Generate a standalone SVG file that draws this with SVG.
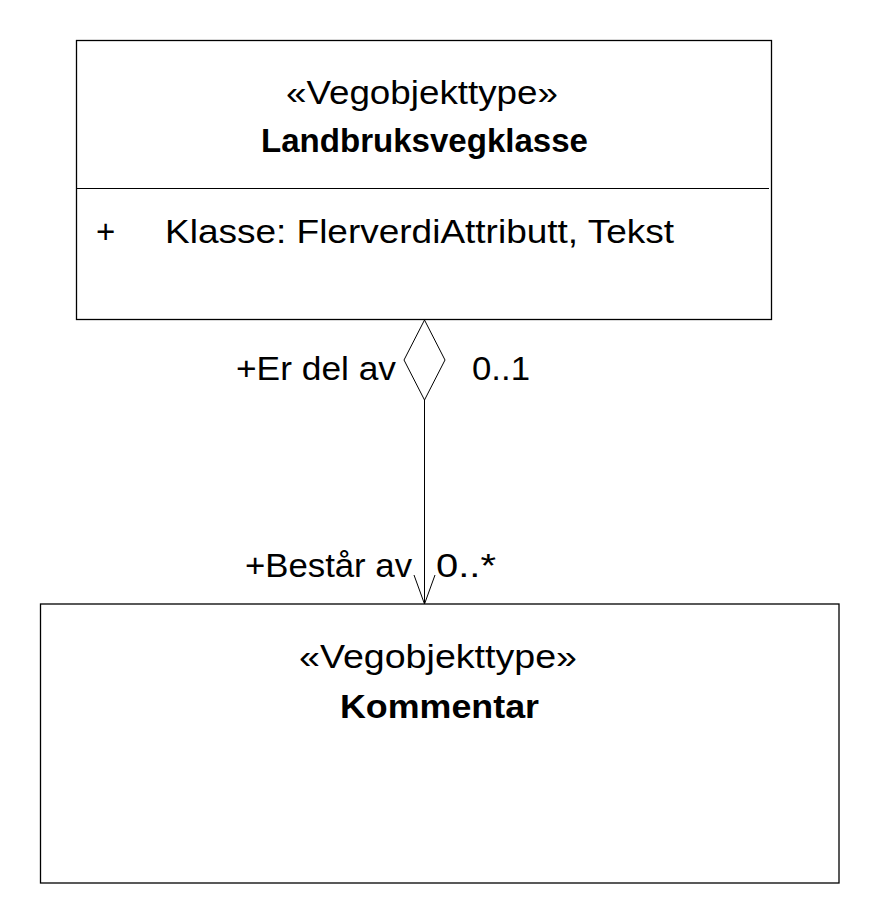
<svg xmlns="http://www.w3.org/2000/svg" width="880" height="924" viewBox="0 0 880 924">
<style>
.box{fill:#fff;stroke:#000;stroke-width:1.3}
.ln{fill:none;stroke:#000;stroke-width:1}
text{font-family:"Liberation Sans",Arial,sans-serif;font-size:33px;fill:#000}
.b{font-weight:bold}
</style>
<rect width="880" height="924" fill="#fff"/>
<g id="landbruksvegklasse">
<rect class="box" x="76.5" y="40.5" width="695" height="279"/>
<line class="ln" x1="76.5" y1="188.5" x2="769" y2="188.5" stroke-width="1.3"/>
<text x="286" y="104" textLength="272" lengthAdjust="spacingAndGlyphs">«Vegobjekttype»</text>
<text class="b" x="261" y="152" textLength="327" lengthAdjust="spacingAndGlyphs">Landbruksvegklasse</text>
<text x="96" y="243">+</text>
<text x="165" y="243" textLength="509" lengthAdjust="spacingAndGlyphs">Klasse: FlerverdiAttributt, Tekst</text>
</g>
<g id="kommentar">
<rect class="box" x="40.5" y="604" width="798.5" height="279"/>
<text x="299" y="668" textLength="278" lengthAdjust="spacingAndGlyphs">«Vegobjekttype»</text>
<text class="b" x="340" y="718" textLength="199" lengthAdjust="spacingAndGlyphs">Kommentar</text>
</g>
<g id="connectors">
<polygon class="ln" points="424.5,320 404,360 424.5,400 445,360"/>
<line class="ln" x1="424.5" y1="400" x2="424.5" y2="604"/>
<polyline class="ln" points="414,575 424.5,604 435,575"/>
<text x="236" y="380" textLength="160" lengthAdjust="spacingAndGlyphs">+Er del av</text>
<text x="472" y="380" textLength="58" lengthAdjust="spacingAndGlyphs">0..1</text>
<text x="245" y="577" textLength="167" lengthAdjust="spacingAndGlyphs">+Består av</text>
<text x="436" y="577" textLength="60" lengthAdjust="spacingAndGlyphs">0..*</text>
</g>
</svg>
